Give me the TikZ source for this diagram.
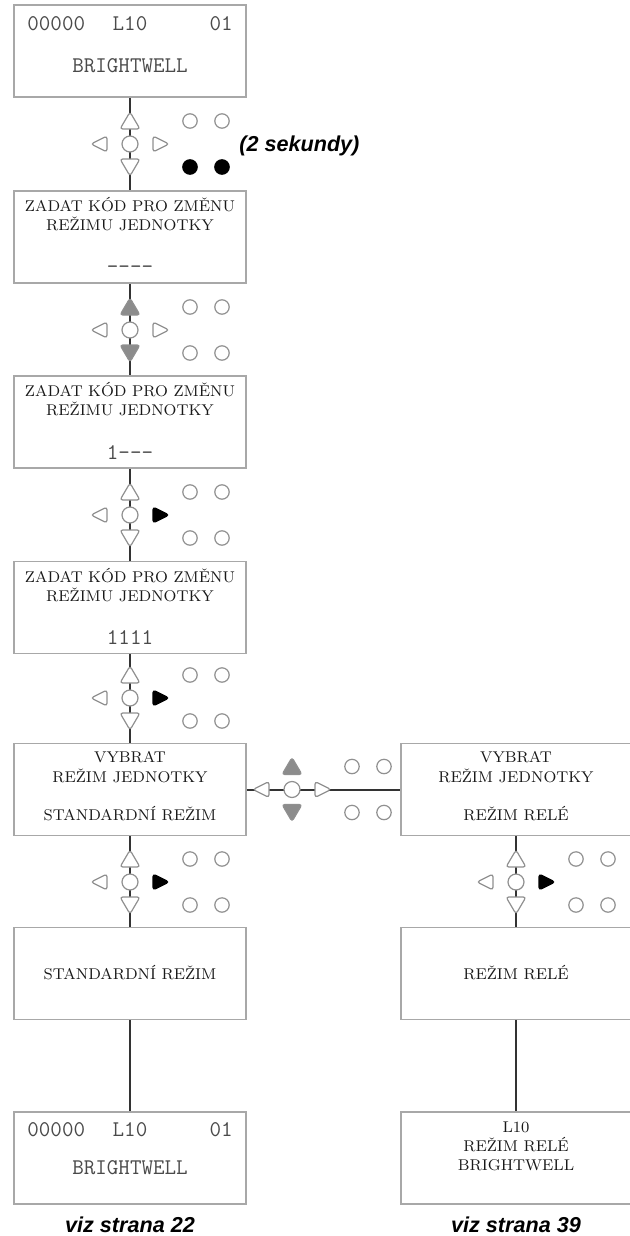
\documentclass[tikz,border=0pt]{standalone}
\usepackage{fontspec}
\newfontfamily\notefont{Liberation Sans}

\definecolor{boxedge}{HTML}{A8A8A8}
\definecolor{keyedge}{HTML}{909090}
\definecolor{keyfill}{HTML}{8C8C8C}
\definecolor{lcdtext}{HTML}{4A4A4A}
\definecolor{wiretone}{HTML}{333333}

\tikzset{
  screen/.style={draw=boxedge, line width=0.8pt, minimum width=116pt, minimum height=46pt, inner sep=0pt},
  wire/.style={draw=wiretone, line width=1pt},
  caption/.style={font=\fontsize{7.8}{9}\selectfont, text=black!90, inner sep=0pt, text height=5.4pt, text depth=0pt},
  lcd/.style={font=\ttfamily\fontsize{11.2}{12}\selectfont, text=lcdtext, inner sep=0pt, text height=6.8pt, text depth=0pt},
  note/.style={font=\notefont\bfseries\itshape\fontsize{10.8}{12}\selectfont, inner sep=0pt, text height=7.8pt, text depth=0pt},
  keyoff/.style={draw=keyedge, fill=white},
  keygray/.style={draw=keyedge, fill=keyfill},
  keyon/.style={draw=black, fill=black},
  % keypad: {up}{down}{left}{right}{lower dots}
  pics/keypad/.style n args={5}{code={
    \begin{scope}[line width=0.6pt, rounded corners=1.4pt]
      \path[#1] (0,-32) -- (10,-15) -- (-10,-15) -- cycle;
      \path[#2] (0,32) -- (10,15) -- (-10,15) -- cycle;
      \path[#3] (-39,0) -- (-23,-8) -- (-23,8) -- cycle;
      \path[#4] (39,0) -- (23,-8) -- (23,8) -- cycle;
    \end{scope}
    \path[keyoff, line width=0.6pt] (0,0) circle[radius=4pt];
    \path[keyoff, line width=0.6pt] (60,-23) circle[radius=3.6pt] (92,-23) circle[radius=3.6pt];
    \path[#5, line width=0.6pt] (60,23) circle[radius=3.6pt] (92,23) circle[radius=3.6pt];
  }},
}

\begin{document}
\begin{tikzpicture}[x=0.5pt, y=-0.5pt]
    \useasboundingbox (0,0) rectangle (630,1236);

    % Define the screens
    \node[screen] (b1) at (130,51) {};
    \node[screen] (b2) at (130,237) {};
    \node[screen] (b3) at (130,422) {};
    \node[screen] (b4) at (130,607.5) {};
    \node[screen] (b5) at (130,789.5) {};
    \node[screen] (b6) at (130,973.5) {};
    \node[screen] (b7) at (130,1158) {};
    \node[screen, minimum width=115pt] (r5) at (516,789.5) {};
    \node[screen, minimum width=115pt] (r6) at (516,973.5) {};
    \node[screen, minimum width=115pt] (r7) at (516,1158) {};

    % Draw the connectors
    \draw[wire] (b1) -- (b2);
    \draw[wire] (b2) -- (b3);
    \draw[wire] (b3) -- (b4);
    \draw[wire] (b4) -- (b5);
    \draw[wire] (b5) -- (b6);
    \draw[wire] (b6) -- (b7);
    \draw[wire] (b5) -- (r5);
    \draw[wire] (r5) -- (r6);
    \draw[wire] (r6) -- (r7);

    % Keypads between the screens
    \pic (k1) at (130,144) {keypad={keyoff}{keyoff}{keyoff}{keyoff}{keyon}};
    \pic (k2) at (130,330) {keypad={keygray}{keygray}{keyoff}{keyoff}{keyoff}};
    \pic (k3) at (130,515) {keypad={keyoff}{keyoff}{keyoff}{keyon}{keyoff}};
    \pic (k4) at (130,698) {keypad={keyoff}{keyoff}{keyoff}{keyon}{keyoff}};
    \pic (k5) at (130,882) {keypad={keyoff}{keyoff}{keyoff}{keyon}{keyoff}};
    \pic (kh) at (292,789.5) {keypad={keygray}{keygray}{keyoff}{keyoff}{keyoff}};
    \pic (k6) at (516,882) {keypad={keyoff}{keyoff}{keyoff}{keyon}{keyoff}};
    \node[note, anchor=west] (hold) at (239,144) {(2 sekundy)};

    % Screen texts
    \node[lcd, anchor=west] (b1a) at (27,24) {00000};
    \node[lcd] (b1b) at (130,24) {L10};
    \node[lcd, anchor=east] (b1c) at (233,24) {01};
    \node[lcd] (b1d) at (130,66) {BRIGHTWELL};

    \node[caption] (b2a) at (130,206) {ZADAT KÓD PRO ZMĚNU};
    \node[caption] (b2b) at (130,225) {REŽIMU JEDNOTKY};
    \node[lcd] (b2c) at (130,267) {----};

    \node[caption] (b3a) at (130,391) {ZADAT KÓD PRO ZMĚNU};
    \node[caption] (b3b) at (130,410) {REŽIMU JEDNOTKY};
    \node[lcd] (b3c) at (130,453) {1---};

    \node[caption] (b4a) at (130,577) {ZADAT KÓD PRO ZMĚNU};
    \node[caption] (b4b) at (130,596) {REŽIMU JEDNOTKY};
    \node[lcd] (b4c) at (130,638) {1111};

    \node[caption] (b5a) at (130,757) {VYBRAT};
    \node[caption] (b5b) at (130,777) {REŽIM JEDNOTKY};
    \node[caption] (b5c) at (130,815) {STANDARDNÍ REŽIM};
    \node[caption] (r5a) at (516,757) {VYBRAT};
    \node[caption] (r5b) at (516,777) {REŽIM JEDNOTKY};
    \node[caption] (r5c) at (516,815) {REŽIM RELÉ};

    \node[caption] (b6a) at (130,974) {STANDARDNÍ REŽIM};
    \node[caption] (r6a) at (516,974) {REŽIM RELÉ};

    \node[lcd, anchor=west] (b7a) at (27,1130) {00000};
    \node[lcd] (b7b) at (130,1130) {L10};
    \node[lcd, anchor=east] (b7c) at (233,1130) {01};
    \node[lcd] (b7d) at (130,1168) {BRIGHTWELL};
    \node[caption] (r7a) at (516,1127) {L10};
    \node[caption] (r7b) at (516,1146) {REŽIM RELÉ};
    \node[caption] (r7c) at (516,1165) {BRIGHTWELL};

    % Page references
    \node[note] (see1) at (130,1225) {viz strana 22};
    \node[note] (see2) at (516,1225) {viz strana 39};
\end{tikzpicture}
\end{document}
